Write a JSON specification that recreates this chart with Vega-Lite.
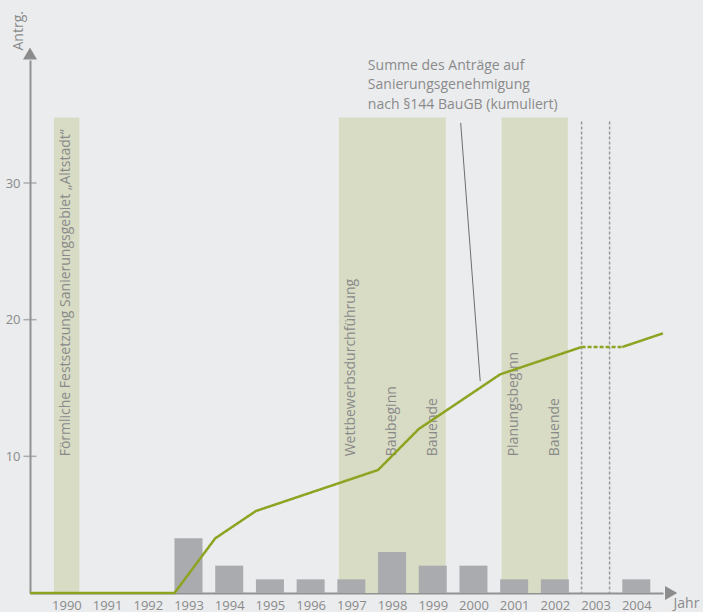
{
  "$schema": "https://vega.github.io/schema/vega-lite/v6.json",
  "width": 633,
  "height": 533,
  "autosize": {"type": "none"},
  "padding": {"left": 30, "top": 60, "right": 40, "bottom": 19},
  "background": "#ebecee",
  "config": {
    "view": {"stroke": null},
    "font": "Open Sans",
    "axis": {
      "domainColor": "#919191",
      "domainWidth": 2,
      "ticks": false,
      "grid": false,
      "labelFont": "Open Sans",
      "labelColor": "#8a8a8a",
      "labelFontSize": 13,
      "titleFont": "Open Sans",
      "titleColor": "#8a8a8a",
      "titleFontSize": 14,
      "titleFontWeight": "normal"
    }
  },
  "datasets": {
    "antraege": [
      {"jahr": 1993, "anzahl": 4},
      {"jahr": 1994, "anzahl": 2},
      {"jahr": 1995, "anzahl": 1},
      {"jahr": 1996, "anzahl": 1},
      {"jahr": 1997, "anzahl": 1},
      {"jahr": 1998, "anzahl": 3},
      {"jahr": 1999, "anzahl": 2},
      {"jahr": 2000, "anzahl": 2},
      {"jahr": 2001, "anzahl": 1},
      {"jahr": 2002, "anzahl": 1},
      {"jahr": 2004, "anzahl": 1}
    ],
    "summe": [
      {"jahr": 1989.45, "summe": 0, "abschnitt": "bis 2003"},
      {"jahr": 1993, "summe": 0, "abschnitt": "bis 2003"},
      {"jahr": 1994, "summe": 4, "abschnitt": "bis 2003"},
      {"jahr": 1995, "summe": 6, "abschnitt": "bis 2003"},
      {"jahr": 1996, "summe": 7, "abschnitt": "bis 2003"},
      {"jahr": 1997, "summe": 8, "abschnitt": "bis 2003"},
      {"jahr": 1998, "summe": 9, "abschnitt": "bis 2003"},
      {"jahr": 1999, "summe": 12, "abschnitt": "bis 2003"},
      {"jahr": 2000, "summe": 14, "abschnitt": "bis 2003"},
      {"jahr": 2001, "summe": 16, "abschnitt": "bis 2003"},
      {"jahr": 2002, "summe": 17, "abschnitt": "bis 2003"},
      {"jahr": 2003, "summe": 18, "abschnitt": "bis 2003"},
      {"jahr": 2003, "summe": 18, "abschnitt": "2003"},
      {"jahr": 2004, "summe": 18, "abschnitt": "2003"},
      {"jahr": 2004, "summe": 18, "abschnitt": "ab 2004"},
      {"jahr": 2005, "summe": 19, "abschnitt": "ab 2004"}
    ],
    "phasen": [
      {"von": 1990, "bis": 1990},
      {"von": 1997, "bis": 1999},
      {"von": 2001, "bis": 2002}
    ],
    "ereignisse": [
      {"jahr": 1990, "text": "Förmliche Festsetzung Sanierungsgebiet „Altstadt“"},
      {"jahr": 1997, "text": "Wettbewerbsdurchführung"},
      {"jahr": 1998, "text": "Baubeginn"},
      {"jahr": 1999, "text": "Bauende"},
      {"jahr": 2001, "text": "Planungsbeginn"},
      {"jahr": 2002, "text": "Bauende"}
    ],
    "skala": [
      {"wert": 10},
      {"wert": 20},
      {"wert": 30}
    ],
    "eins": [{}]
  },
  "layer": [
    {
      "data": {"name": "phasen"},
      "mark": {"type": "rect", "color": "#d8dcc4", "xOffset": 1.5, "x2Offset": 27},
      "encoding": {
        "x": {"field": "von", "type": "quantitative", "scale": {"domain": [1989.45, 2005], "nice": false, "zero": false, "padding": 0}},
        "x2": {"field": "bis"},
        "y": {"datum": 34.8, "type": "quantitative", "scale": {"domain": [0, 39], "nice": false, "padding": 0}},
        "y2": {"datum": 0}
      }
    },
    {
      "data": {"name": "ereignisse"},
      "mark": {"type": "text", "angle": 270, "align": "left", "baseline": "middle", "xOffset": 14, "fontSize": 14, "color": "#8a8a8a"},
      "encoding": {
        "x": {"field": "jahr", "type": "quantitative"},
        "y": {"datum": 10, "type": "quantitative"},
        "text": {"field": "text"}
      }
    },
    {
      "data": {"name": "eins"},
      "mark": {"type": "rule", "color": "#9a9a9a", "strokeWidth": 1.5, "strokeDash": [3, 2]},
      "encoding": {
        "x": {"datum": 2003, "type": "quantitative"},
        "y": {"datum": 34.5, "type": "quantitative"},
        "y2": {"datum": 0}
      }
    },
    {
      "data": {"name": "eins"},
      "mark": {"type": "rule", "color": "#9a9a9a", "strokeWidth": 1.5, "strokeDash": [3, 2], "xOffset": 28},
      "encoding": {
        "x": {"datum": 2003, "type": "quantitative"},
        "y": {"datum": 34.5, "type": "quantitative"},
        "y2": {"datum": 0}
      }
    },
    {
      "data": {"name": "antraege"},
      "mark": {"type": "bar", "color": "#aaabaf", "width": 28, "xOffset": 14, "orient": "vertical"},
      "encoding": {
        "x": {
          "field": "jahr",
          "type": "quantitative",
          "axis": {
            "values": [1990, 1991, 1992, 1993, 1994, 1995, 1996, 1997, 1998, 1999, 2000, 2001, 2002, 2003, 2004],
            "format": "d",
            "labelOffset": 14,
            "labelPadding": 6,
            "labelBaseline": "top",
            "labelFlush": false,
            "labelOverlap": false,
            "title": "Jahr",
            "titleAnchor": "start",
            "titleAlign": "left",
            "titleBaseline": "alphabetic",
            "titleX": 643,
            "titleY": 14
          }
        },
        "y": {
          "field": "anzahl",
          "type": "quantitative",
          "stack": null,
          "axis": {
            "values": [10, 20, 30],
            "labelPadding": 10,
            "title": "Antrg.",
            "titleAngle": 270,
            "titleAlign": "left",
            "titleBaseline": "alphabetic",
            "titleAnchor": "end",
            "titleX": -8,
            "titleY": -10
          }
        }
      }
    },
    {
      "data": {"name": "skala"},
      "mark": {"type": "tick", "orient": "horizontal", "size": 13, "thickness": 1.5, "color": "#919191"},
      "encoding": {
        "x": {"datum": 1989.45, "type": "quantitative"},
        "y": {"field": "wert", "type": "quantitative"}
      }
    },
    {
      "data": {"name": "summe"},
      "mark": {"type": "line", "color": "#8ea322", "strokeWidth": 2.5},
      "encoding": {
        "x": {"field": "jahr", "type": "quantitative"},
        "y": {"field": "summe", "type": "quantitative"},
        "strokeDash": {
          "field": "abschnitt",
          "type": "nominal",
          "scale": {"domain": ["bis 2003", "2003", "ab 2004"], "range": [[1, 0], [4, 2], [1, 0]]},
          "legend": null
        }
      }
    },
    {
      "data": {"name": "eins"},
      "mark": {"type": "rule", "color": "#6e6e6e", "strokeWidth": 1},
      "encoding": {
        "x": {"datum": 2000.03, "type": "quantitative"},
        "y": {"datum": 34.4, "type": "quantitative"},
        "x2": {"datum": 2000.51},
        "y2": {"datum": 15.5}
      }
    },
    {
      "data": {"name": "eins"},
      "mark": {
        "type": "text",
        "text": ["Summe des Anträge auf", "Sanierungsgenehmigung", "nach §144 BauGB (kumuliert)"],
        "align": "left",
        "baseline": "alphabetic",
        "lineHeight": 19.5,
        "fontSize": 14,
        "color": "#8a8a8a"
      },
      "encoding": {
        "x": {"datum": 1997.75, "type": "quantitative"},
        "y": {"datum": 38.3, "type": "quantitative"}
      }
    },
    {
      "data": {"name": "eins"},
      "mark": {"type": "point", "shape": "triangle-up", "filled": true, "size": 196, "opacity": 1, "color": "#8c8c8c"},
      "encoding": {
        "x": {"datum": 1989.45, "type": "quantitative"},
        "y": {"datum": 39.48, "type": "quantitative"}
      }
    },
    {
      "data": {"name": "eins"},
      "mark": {"type": "point", "shape": "triangle-right", "filled": true, "size": 196, "opacity": 1, "color": "#8c8c8c"},
      "encoding": {
        "x": {"datum": 2005.2, "type": "quantitative"},
        "y": {"datum": 0, "type": "quantitative"}
      }
    }
  ]
}
